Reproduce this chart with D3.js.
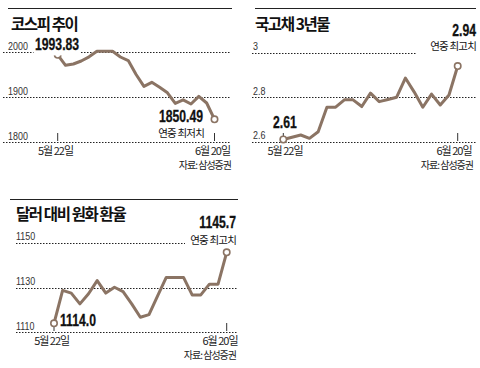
<!DOCTYPE html>
<html><head><meta charset="utf-8">
<script src="https://cdn.jsdelivr.net/npm/d3@7"></script>
<style>
html,body{margin:0;padding:0;background:#fff;}
svg{display:block;}
</style></head>
<body>
<svg id="chart" width="480" height="368"></svg>
<script>
// ---- data ----
const dates = ["5/22","5/23","5/24","5/27","5/28","5/29","5/30","5/31","6/3","6/4","6/5","6/7","6/10","6/11","6/12","6/13","6/14","6/17","6/18","6/19","6/20"];
const kospi = [1993.83,1970.4,1973.3,1980,1989.3,2001.5,2001.5,2001.5,1988.9,1980.9,1950,1923.7,1932.6,1921.5,1909.3,1885.9,1893.6,1884.4,1901.5,1886.7,1850.49];
const bond3y = [2.61,2.62,2.63,2.615,2.645,2.755,2.755,2.788,2.788,2.758,2.818,2.78,2.79,2.80,2.886,2.824,2.755,2.814,2.765,2.81,2.94];
const usdkrw = [1114.0,1128.7,1127.5,1122.7,1127.2,1133.1,1127.5,1130.1,1128.2,1122.7,1116.7,1117.9,1126.3,1134.5,1134.5,1134.5,1126.7,1126.7,1131.5,1131.5,1145.7];
const kospiTicks = [1800,1900,2000];
const bondTicks = [2.6,2.8,3];
const fxTicks = [1110,1130,1150];
const tickLabelsKospi = ["1800","1900","2000"];
const tickLabelsBond = ["2.6","2.8","3"];
const tickLabelsFx = ["1110","1130","1150"];
const titles = ["코스피 추이","국고채 3년물","달러 대비 원화 환율"];
const xLabels = ["5월 22일","6월 20일"];
const source = "자료: 삼성증권";

const svg = d3.select("#chart");
const LINE = "#8b7464";
const SANS = "'Liberation Sans',Arial,sans-serif";
const KR = "'Noto Sans CJK KR','Noto Sans',sans-serif";

function ctext(g, x, y, str, sx){
  const gg = g.append("g").attr("transform",`translate(${x},${y}) scale(${sx},1)`);
  const t = gg.append("text").attr("x",0).attr("y",0).text(str);
  return {gg, t};
}

function panel(o){
  const g = svg.append("g");
  g.append("line").attr("x1",o.rule[0]).attr("x2",o.rule[1]).attr("y1",o.ruleY).attr("y2",o.ruleY)
    .attr("stroke","#222").attr("stroke-width",1);
  g.append("text").attr("x",o.titleX).attr("y",o.titleY).text(o.title)
    .attr("font-family",KR).attr("font-weight",700).attr("font-size",15.5)
    .attr("letter-spacing",-1.4).attr("fill","#111");
  const y = d3.scaleLinear().domain(o.domain).range(o.yRange);
  const x = d3.scaleLinear().domain([0,o.values.length-1]).range(o.xRange);
  o.ticks.forEach((t,i)=>{
    const end = (i===o.ticks.length-1 && o.topGridEnd) ? o.topGridEnd : o.gridX[1];
    g.append("line").attr("x1",o.gridX[0]).attr("x2",end)
      .attr("y1",Math.round(y(t))+0.5).attr("y2",Math.round(y(t))+0.5)
      .attr("stroke","#222").attr("stroke-width",1).attr("stroke-dasharray","1.5,1.5");
    const c = ctext(g, o.tickX, y(t)-2.5, o.tickLabels[i], 0.85);
    c.t.attr("font-family",SANS).attr("font-size",10.5).attr("fill","#333");
  });
  const base = Math.round(y(o.domain[0]));
  [0,o.values.length-1].forEach((idx,k)=>{
    g.append("line").attr("x1",x(idx)).attr("x2",x(idx)).attr("y1",base-9).attr("y2",base-1)
      .attr("stroke","#333").attr("stroke-width",1);
    g.append("text").attr("x",o.xLabelX[k]).attr("y",155 + o.dy).text(xLabels[k])
      .attr("text-anchor","middle").attr("font-family",KR).attr("font-size",11)
      .attr("letter-spacing",-1).attr("fill","#222");
  });
  g.append("path").datum(o.values)
    .attr("d",d3.line().x((d,i)=>x(i)).y(d=>y(d)))
    .attr("fill","none").attr("stroke",LINE).attr("stroke-width",3)
    .attr("stroke-linejoin","round").attr("stroke-linecap","round");
  [0,o.values.length-1].forEach(idx=>{
    g.append("circle").attr("cx",x(idx)).attr("cy",y(o.values[idx])).attr("r",3.2)
      .attr("fill","#fff").attr("stroke",LINE).attr("stroke-width",1.6);
  });
  o.labels.forEach(l=>{
    if(l.big){
      const c = ctext(g, l.x, l.y, l.text, 0.74);
      c.t.attr("text-anchor",l.anchor||"start").attr("fill","#111")
        .attr("font-family",SANS).attr("font-weight",700).attr("font-size",16.5)
        .attr("stroke","#111").attr("stroke-width",0.3);
      if(l.bg){
        const bb = c.t.node().getBBox();
        c.gg.insert("rect",function(){return c.t.node();})
          .attr("x",bb.x-2).attr("y",bb.y).attr("width",bb.width+4).attr("height",bb.height+2)
          .attr("fill","#fff");
      }
    } else {
      g.append("text").attr("x",l.x).attr("y",l.y).text(l.text)
        .attr("text-anchor",l.anchor||"start").attr("fill","#111")
        .attr("font-family",KR).attr("font-size",10.5).attr("letter-spacing",-0.8);
    }
  });
  g.append("text").attr("x",o.srcX).attr("y",169+o.dy).text(source)
    .attr("text-anchor","end").attr("font-family",KR).attr("font-size",10)
    .attr("letter-spacing",-1).attr("fill","#222");
}

panel({
  title:titles[0], rule:[8,232], ruleY:8.5, titleX:11, titleY:30, dy:0,
  domain:[1800,2000], yRange:[142,52], xRange:[57.7,214.5], values:kospi,
  ticks:kospiTicks, tickLabels:tickLabelsKospi, tickX:8, gridX:[3,231],
  xLabelX:[55.5,212.5], srcX:231,
  labels:[
    {text:"1993.83", x:35, y:50, big:true, bg:true},
    {text:"1850.49", x:203, y:121.5, big:true, anchor:"end"},
    {text:"연중 최저치", x:204, y:136.5, anchor:"end"}
  ]
});

panel({
  title:titles[1], rule:[255,476], ruleY:8.5, titleX:255, titleY:30, dy:0,
  domain:[2.6,3], yRange:[141.7,52.7], xRange:[283.3,457.7], values:bond3y,
  ticks:bondTicks, tickLabels:tickLabelsBond, tickX:253, gridX:[252,476], topGridEnd:417,
  xLabelX:[285,454], srcX:473,
  labels:[
    {text:"2.94", x:476, y:35.5, big:true, anchor:"end"},
    {text:"연중 최고치", x:476, y:49.5, anchor:"end"},
    {text:"2.61", x:273, y:128, big:true}
  ]
});

panel({
  title:titles[2], rule:[10,238], ruleY:199.5, titleX:16, titleY:220, dy:190,
  domain:[1110,1150], yRange:[332.3,242.7], xRange:[54,226.7], values:usdkrw,
  ticks:fxTicks, tickLabels:tickLabelsFx, tickX:16, gridX:[16,237], topGridEnd:185,
  xLabelX:[51.7,220], srcX:236,
  labels:[
    {text:"1145.7", x:236, y:227.5, big:true, anchor:"end"},
    {text:"연중 최고치", x:236, y:243.5, anchor:"end"},
    {text:"1114.0", x:60, y:326, big:true}
  ]
});
</script>
</body></html>
